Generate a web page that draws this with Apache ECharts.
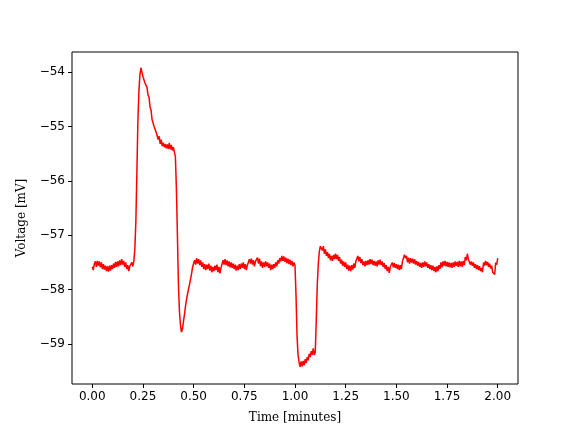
<!DOCTYPE html>
<html>
<head>
<meta charset="utf-8">
<script src="https://cdn.jsdelivr.net/npm/echarts@6/dist/echarts.min.js"></script>
<style>html,body{margin:0;padding:0;background:#fff}#c{width:576px;height:432px}</style>
</head>
<body>
<div id="c"></div>
<script>
// sampling grid of the trace (minutes)
const t0 = 0.0;
const dt = 0.005;
// voltage samples [mV], one row per 0.1 min
const voltage = [
-57.58,-57.64,-57.53,-57.48,-57.58,-57.47,-57.56,-57.48,-57.59,-57.50,-57.62,-57.53,-57.63,-57.56,-57.66,-57.57,-57.67,-57.56,-57.65,-57.55,
-57.62,-57.52,-57.60,-57.49,-57.58,-57.48,-57.57,-57.46,-57.55,-57.44,-57.54,-57.47,-57.58,-57.50,-57.62,-57.55,-57.66,-57.57,-57.58,-57.50,
-57.57,-57.48,-57.25,-56.75,-55.85,-54.90,-54.35,-54.05,-53.92,-54.00,-54.08,-54.07,-54.20,-54.20,-54.28,-54.42,-54.46,-54.64,-54.70,-54.87,
-54.86,-55.00,-54.98,-55.10,-55.08,-55.24,-55.18,-55.32,-55.24,-55.36,-55.30,-55.38,-55.32,-55.40,-55.33,-55.41,-55.30,-55.42,-55.34,-55.44,
-55.38,-55.47,-55.55,-56.15,-57.00,-57.90,-58.40,-58.65,-58.78,-58.72,-58.58,-58.45,-58.30,-58.18,-58.08,-57.98,-57.90,-57.80,-57.70,-57.58,
-57.55,-57.46,-57.54,-57.42,-57.52,-57.44,-57.55,-57.46,-57.58,-57.50,-57.62,-57.53,-57.64,-57.54,-57.62,-57.52,-57.65,-57.56,-57.68,-57.58,
-57.66,-57.56,-57.64,-57.54,-57.68,-57.58,-57.70,-57.60,-57.58,-57.46,-57.54,-57.44,-57.55,-57.46,-57.57,-57.48,-57.59,-57.50,-57.60,-57.52,
-57.62,-57.54,-57.65,-57.56,-57.64,-57.53,-57.62,-57.52,-57.60,-57.50,-57.62,-57.53,-57.64,-57.55,-57.54,-57.44,-57.52,-57.43,-57.54,-57.46,
-57.57,-57.48,-57.50,-57.41,-57.52,-57.43,-57.57,-57.48,-57.60,-57.50,-57.58,-57.48,-57.57,-57.50,-57.60,-57.52,-57.64,-57.54,-57.62,-57.53,
-57.60,-57.50,-57.57,-57.46,-57.52,-57.42,-57.48,-57.38,-57.47,-57.39,-57.49,-57.41,-57.51,-57.43,-57.53,-57.45,-57.55,-57.47,-57.57,-57.50,
-57.55,-58.10,-58.85,-59.20,-59.33,-59.42,-59.32,-59.41,-59.31,-59.39,-59.28,-59.35,-59.24,-59.30,-59.18,-59.24,-59.13,-59.20,-59.08,-59.20,
-59.15,-58.55,-57.90,-57.52,-57.30,-57.20,-57.18,-57.28,-57.20,-57.34,-57.26,-57.38,-57.31,-57.42,-57.34,-57.46,-57.38,-57.47,-57.36,-57.44,
-57.34,-57.44,-57.36,-57.47,-57.40,-57.52,-57.45,-57.56,-57.48,-57.58,-57.50,-57.62,-57.54,-57.65,-57.56,-57.66,-57.55,-57.63,-57.52,-57.60,
-57.48,-57.47,-57.38,-57.48,-57.40,-57.51,-57.44,-57.55,-57.48,-57.57,-57.47,-57.55,-57.46,-57.54,-57.44,-57.53,-57.45,-57.55,-57.47,-57.56,
-57.48,-57.57,-57.46,-57.54,-57.45,-57.55,-57.48,-57.58,-57.51,-57.62,-57.55,-57.66,-57.58,-57.69,-57.58,-57.58,-57.50,-57.59,-57.51,-57.60,
-57.53,-57.62,-57.54,-57.64,-57.55,-57.62,-57.48,-57.50,-57.36,-57.42,-57.38,-57.50,-57.41,-57.52,-57.42,-57.50,-57.43,-57.52,-57.44,-57.54,
-57.47,-57.56,-57.49,-57.58,-57.51,-57.60,-57.50,-57.58,-57.48,-57.57,-57.50,-57.60,-57.53,-57.62,-57.55,-57.64,-57.56,-57.66,-57.58,-57.68,
-57.57,-57.66,-57.55,-57.62,-57.50,-57.59,-57.48,-57.56,-57.47,-57.57,-57.49,-57.58,-57.50,-57.59,-57.51,-57.60,-57.50,-57.58,-57.48,-57.56,
-57.49,-57.58,-57.47,-57.57,-57.48,-57.58,-57.47,-57.55,-57.40,-57.46,-57.34,-57.44,-57.46,-57.54,-57.48,-57.56,-57.50,-57.60,-57.53,-57.62,
-57.55,-57.64,-57.57,-57.66,-57.60,-57.68,-57.50,-57.56,-57.47,-57.55,-57.49,-57.58,-57.52,-57.61,-57.56,-57.68,-57.66,-57.72,-57.50,-57.54,
-57.42
];
const xTicks = [0, 0.25, 0.5, 0.75, 1.0, 1.25, 1.5, 1.75, 2.0];
const yTicks = [-59, -58, -57, -56, -55, -54];

const data = voltage.map((v, i) => [+(t0 + i * dt).toFixed(3), v]);

const chart = echarts.init(document.getElementById('c'), null, {renderer: 'canvas'});
const tickFont = {fontFamily: 'DejaVu Sans', fontSize: 12, color: '#000'};
chart.setOption({
  animation: false,
  backgroundColor: '#fff',
  grid: {left: 72, right: 58, top: 52, bottom: 48, show: true, borderColor: '#000', borderWidth: 1, backgroundColor: 'transparent'},
  xAxis: {
    type: 'value', min: -0.1, max: 2.1,
    name: 'Time [minutes]', nameLocation: 'middle', nameGap: 28,
    nameTextStyle: {fontFamily: 'DejaVu Serif', fontSize: 12, color: '#000'},
    axisLine: {show: false, onZero: false},
    splitLine: {show: false},
    axisTick: {show: true, inside: false, length: 4, customValues: xTicks, lineStyle: {color: '#000', width: 1}},
    axisLabel: Object.assign({customValues: xTicks, margin: 7, formatter: v => v.toFixed(2)}, tickFont)
  },
  yAxis: {
    type: 'value', min: -59.735, max: -53.63,
    name: 'Voltage [mV]', nameLocation: 'middle', nameGap: 44,
    nameTextStyle: {fontFamily: 'DejaVu Serif', fontSize: 12, color: '#000'},
    axisLine: {show: false, onZero: false},
    splitLine: {show: false},
    axisTick: {show: true, inside: false, length: 4, customValues: yTicks, lineStyle: {color: '#000', width: 1}},
    axisLabel: Object.assign({customValues: yTicks, margin: 7, formatter: v => (v < 0 ? '\u2212' : '') + Math.abs(v)}, tickFont)
  },
  series: [{
    type: 'line', data: data, showSymbol: false, sampling: 'none',
    lineStyle: {color: '#ff0000', width: 1.5}, itemStyle: {color: '#ff0000'}
  }]
});
</script>
</body>
</html>
